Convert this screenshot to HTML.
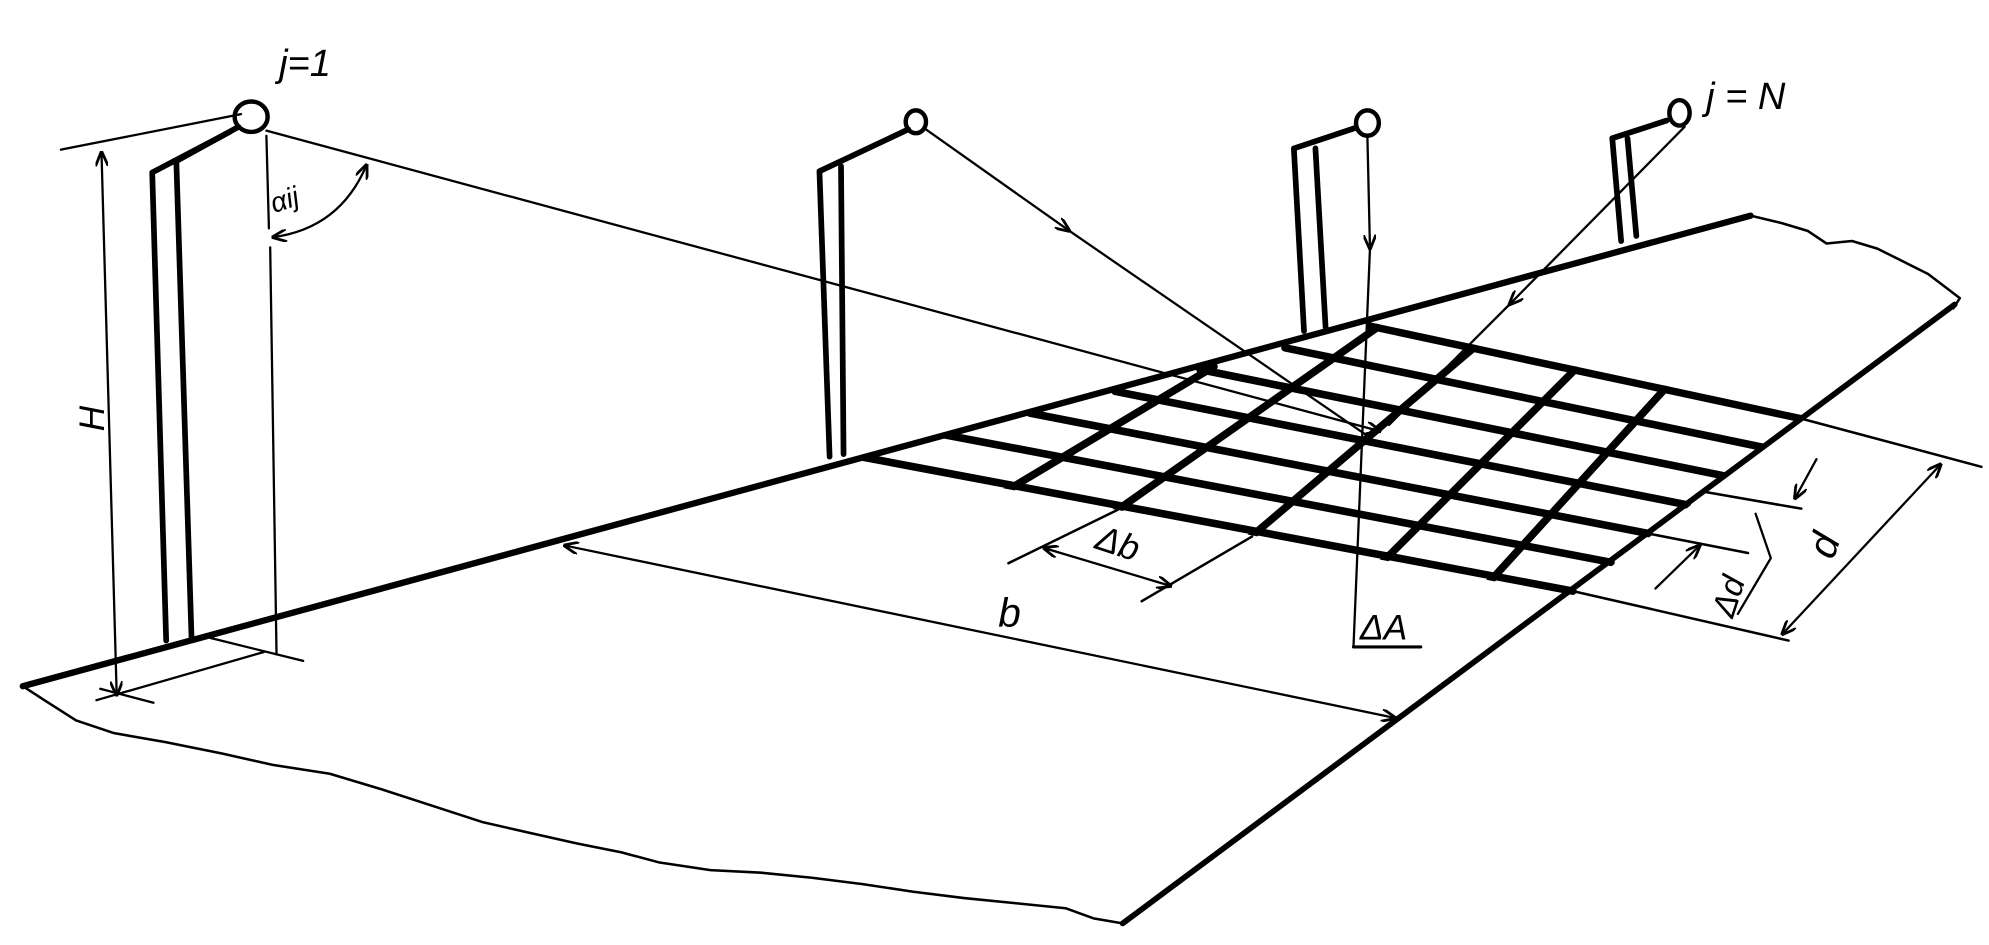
<!DOCTYPE html>
<html><head><meta charset="utf-8"><style>
html,body{margin:0;padding:0;background:#fff;}
svg{display:block;}
text{font-family:"Liberation Sans",sans-serif;font-style:italic;fill:#000;}
</style></head><body>
<svg width="1989" height="945" viewBox="0 0 1568 745" preserveAspectRatio="none" xmlns="http://www.w3.org/2000/svg">
<defs>
<marker id="ar" viewBox="0 0 12 10" refX="11" refY="5" markerWidth="12" markerHeight="10" markerUnits="userSpaceOnUse" orient="auto-start-reverse">
<path d="M0,0 L12,5 L0,10" fill="none" stroke="#000" stroke-width="2.2"/>
</marker>
<clipPath id="gc"><polygon points="675,363 1080,254 1424,328 1240,470"/></clipPath>
</defs>
<g fill="none" stroke="#000" stroke-linecap="round" stroke-linejoin="round">
<!-- ground -->
<path d="M18,541 L1380,170" stroke-width="5"/>
<path d="M1380,170 L1405,176 L1425,182 L1440,192 L1460,190 L1480,196 L1500,206 L1520,216 L1545,235 L1540,243" stroke-width="2"/>
<path d="M1541,240 L885,728" stroke-width="4.5"/>
<path d="M18,541 L35,552 L60,568 L90,578 L130,585 L175,594 L215,603 L260,610 L300,622 L340,635 L380,648 L415,656 L455,665 L490,672 L520,680 L560,686 L600,688 L640,692 L680,697 L720,703 L760,708 L800,712 L840,716 L862,724 L885,728" stroke-width="2"/>
<!-- grid -->
<g stroke-width="6" clip-path="url(#gc)">
<line x1="678" y1="360" x2="1240" y2="466"/>
<line x1="745" y1="342.8" x2="1270" y2="443.3"/>
<line x1="812" y1="325.7" x2="1300" y2="420.7"/>
<line x1="879" y1="308.5" x2="1330" y2="398"/>
<line x1="946" y1="291.3" x2="1360" y2="375.3"/>
<line x1="1013" y1="274.2" x2="1390" y2="352.7"/>
<line x1="1080" y1="257" x2="1420" y2="330"/>
<line x1="790" y1="389" x2="957" y2="289"/>
<line x1="871" y1="409" x2="1086" y2="258"/>
<line x1="977" y1="431" x2="1162" y2="274"/>
<line x1="1080" y1="453" x2="1242" y2="291"/>
<line x1="1164" y1="470" x2="1313" y2="306"/>
</g>
<!-- extension lines -->
<g stroke-width="2">
<line x1="1240" y1="466" x2="1410" y2="505"/>
<line x1="1420" y1="330" x2="1562" y2="368"/>
<line x1="1300" y1="420.7" x2="1378" y2="436"/>
<line x1="1345" y1="388" x2="1420" y2="401"/>
<line x1="795" y1="444" x2="881" y2="402"/>
<line x1="900" y1="474" x2="987" y2="423"/>
</g>
<!-- posts -->
<g stroke-width="4.5">
<path d="M131,505 L120,136 L181,104"/>
<path d="M151,503 L139,127 L188,100"/>
<path d="M654,360 L646,135 L716,102"/>
<path d="M665,358 L663,131"/>
<path d="M1028,261 L1020,117 L1068,101"/>
<path d="M1045,258 L1037,117"/>
<path d="M1278,190 L1271,109 L1314,95"/>
<path d="M1290,186 L1283,109"/>
</g>
<g stroke-width="3.5">
<ellipse cx="198" cy="92" rx="13" ry="12"/>
<ellipse cx="722" cy="96" rx="8" ry="9"/>
<ellipse cx="1078" cy="97" rx="9" ry="10"/>
<ellipse cx="1324" cy="89" rx="8" ry="10"/>
</g>
<!-- rays -->
<g stroke-width="1.8">
<line x1="210" y1="103" x2="1088" y2="340" marker-end="url(#ar)"/>
<line x1="730" y1="102" x2="843" y2="182" marker-end="url(#ar)"/>
<line x1="843" y1="182" x2="1080" y2="345"/>
<line x1="1078" y1="109" x2="1080" y2="196" marker-end="url(#ar)"/>
<line x1="1080" y1="196" x2="1067" y2="510"/>
<line x1="1067" y1="510" x2="1120" y2="510" stroke-width="2.5"/>
<line x1="1328" y1="100" x2="1190" y2="240" marker-end="url(#ar)"/>
<line x1="1190" y1="240" x2="1095" y2="335"/>
<!-- H -->
<line x1="48" y1="118" x2="190" y2="90"/>
<line x1="80" y1="120" x2="92" y2="548" marker-start="url(#ar)" marker-end="url(#ar)"/>
<line x1="76" y1="552" x2="208" y2="514"/>
<line x1="166" y1="503" x2="239" y2="521"/>
<line x1="79" y1="543" x2="121" y2="554"/>
<!-- alpha -->
<line x1="210" y1="107" x2="212" y2="180"/>
<line x1="213" y1="195" x2="218" y2="516"/>
<path d="M215,187 Q268,180 289,130" marker-start="url(#ar)" marker-end="url(#ar)"/>
<!-- b -->
<line x1="445" y1="430" x2="1100" y2="566" marker-start="url(#ar)" marker-end="url(#ar)"/>
<!-- db -->
<line x1="823" y1="432" x2="923" y2="462" marker-start="url(#ar)" marker-end="url(#ar)"/>
<!-- d -->
<line x1="1405" y1="500" x2="1530" y2="366" marker-start="url(#ar)" marker-end="url(#ar)"/>
<!-- dd -->
<line x1="1432" y1="362" x2="1415" y2="393" marker-end="url(#ar)"/>
<line x1="1305" y1="464" x2="1340" y2="430" marker-end="url(#ar)"/>
<path d="M1384,405 L1396,440 L1370,484"/>
</g>
</g>
<!-- labels -->
<text x="220" y="60" font-size="30">j=1</text>
<text x="1345" y="86" font-size="30">j = N</text>
<text x="0" y="0" font-size="28" transform="translate(82,330) rotate(-90)" text-anchor="middle">H</text>
<text x="0" y="0" font-size="22" transform="translate(216,168) rotate(-18)">αij</text>
<text x="787" y="494" font-size="32">b</text>
<text x="0" y="0" font-size="28" transform="translate(862,432) rotate(18)">Δb</text>
<text x="1072" y="504" font-size="28">ΔA</text>
<text x="0" y="0" font-size="26" transform="translate(1366,488) rotate(-72)">Δd</text>
<text x="0" y="0" font-size="32" transform="translate(1445,442) rotate(-70)">d</text>
</svg>
</body></html>
